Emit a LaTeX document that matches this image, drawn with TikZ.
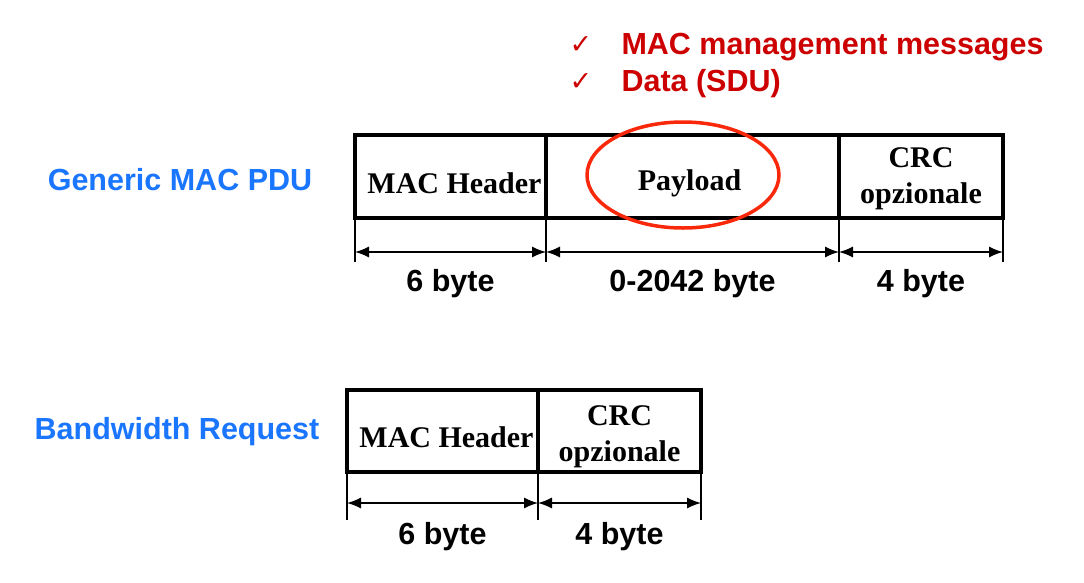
\documentclass[tikz,border=0pt]{standalone}
\usepackage{fontspec}
\setmainfont{Liberation Serif}
\setsansfont{Liberation Sans}
\newfontfamily\checkfont{DejaVu Sans}
\usepackage{tikz}
\usetikzlibrary{arrows.meta,positioning,calc}
\definecolor{pduBlue}{RGB}{26,118,255}
\definecolor{noteRed}{RGB}{204,0,0}
\definecolor{ringRed}{RGB}{250,40,10}

\begin{document}
\begin{tikzpicture}[x=1pt,y=-1pt,
  fld/.style={draw,line width=4pt,outer sep=0pt,inner sep=0pt,minimum height=83pt},
  lab/.style={font=\fontsize{30}{36}\selectfont\bfseries,align=center,yshift=-7pt},
  tick/.style={line width=1.3pt},
  dim/.style={line width=1.3pt,{Latex[length=14pt,width=11pt]}-{Latex[length=14pt,width=11pt]}},
  sz/.style={font=\sffamily\bfseries\fontsize{30.5}{32}\selectfont},
  ttl/.style={font=\sffamily\bfseries\fontsize{30.5}{32}\selectfont,text=pduBlue},
  note/.style={font=\sffamily\bfseries\fontsize{30.5}{32}\selectfont,text=noteRed,anchor=west},
  chk/.style={text=noteRed,font=\checkfont\fontsize{27}{28}\selectfont}]
  \useasboundingbox (0,0) rectangle (1084,582);
  % generic MAC PDU
  \node[fld,minimum width=191pt,label={[lab,xshift=4pt]center:MAC Header}] (hdr) at (450.5,176.5) {};
  \node[fld,minimum width=293pt,right=0pt of hdr,label={[lab,xshift=-3pt]center:Payload}] (pay) {};
  \node[fld,minimum width=164pt,right=0pt of pay,label={[lab,yshift=5pt]center:CRC\\opzionale}] (crc) {};
  \node[ttl] (gen) at (180,180) {Generic MAC PDU};
  \draw[ringRed,line width=3.5pt] (683,175) ellipse [x radius=96, y radius=53];
  \node[note] (m1) at (618,47) {MAC management messages};
  \node[note] (m2) at (618,84) {Data (SDU)};
  \node[chk] (c1) at (581,45) {✓};
  \node[chk] (c2) at (581,82) {✓};
  % ticks and sizes
  \foreach \a/\n in {hdr.south west/a0,hdr.south east/a1,pay.south east/a2,crc.south east/a3}
    \draw[tick] (\a) -- ($(\a)+(0,44)$) coordinate (\n);
  \draw[dim] ($(a0)+(0,-10)$) -- node[sz,below=13pt] {6 byte} ($(a1)+(0,-10)$);
  \draw[dim] ($(a1)+(0,-10)$) -- node[sz,below=13pt] {0-2042 byte} ($(a2)+(0,-10)$);
  \draw[dim] ($(a2)+(0,-10)$) -- node[sz,below=13pt] {4 byte} ($(a3)+(0,-10)$);
  % bandwidth request
  \node[fld,minimum width=191pt,minimum height=82pt,label={[lab,xshift=4pt,yshift=1pt]center:MAC Header}] (bhdr) at (442.5,431) {};
  \node[fld,minimum width=163pt,minimum height=82pt,right=0pt of bhdr,label={[lab,yshift=1pt]center:CRC\\opzionale}] (bcrc) {};
  \node[ttl] (bw) at (177,432) {Bandwidth Request};
  \foreach \a/\n in {bhdr.south west/b0,bhdr.south east/b1,bcrc.south east/b2}
    \draw[tick] (\a) -- ($(\a)+(0,48)$) coordinate (\n);
  \draw[dim] ($(b0)+(0,-17)$) -- node[sz,below=15pt] {6 byte} ($(b1)+(0,-17)$);
  \draw[dim] ($(b1)+(0,-17)$) -- node[sz,below=15pt] {4 byte} ($(b2)+(0,-17)$);
\end{tikzpicture}
\end{document}
